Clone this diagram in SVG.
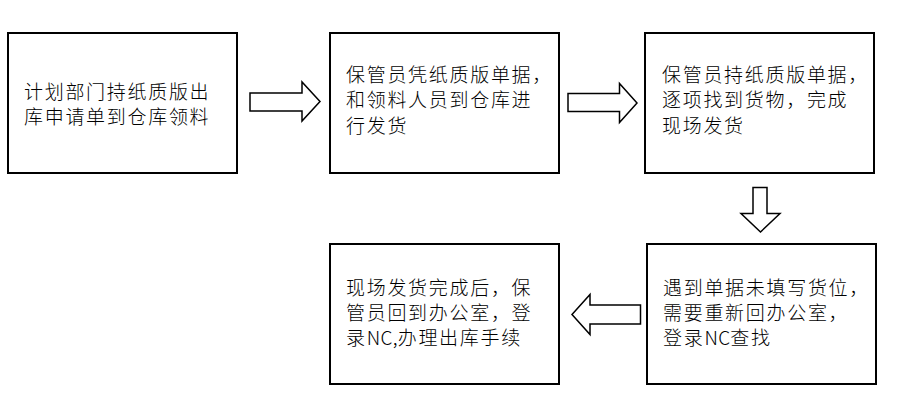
<svg xmlns="http://www.w3.org/2000/svg" width="923" height="402" viewBox="0 0 923 402">
<style>
.box{fill:#fff;stroke:#000;stroke-width:2}
.arr{fill:#fff;stroke:#000;stroke-width:1.5;stroke-linejoin:miter}
.t{font-family:"Noto Sans CJK SC","Liberation Sans",sans-serif;font-size:19px;font-weight:300;letter-spacing:1.7px;fill:#000}
.l{letter-spacing:0.3px}
</style>
<rect width="923" height="402" fill="#fff"/>
<g id="connectors">
<polygon class="arr" points="250,93 302,93 302,82 320,101.5 302,121 302,111 250,111"/>
<polygon class="arr" points="568,93.5 619.5,93.5 619.5,83.5 637,103 619.5,122.5 619.5,111.5 568,111.5"/>
<polygon class="arr" points="753,187.5 767,187.5 767,213.5 780,213.5 760.5,232 741,213.5 753,213.5"/>
<polygon class="arr" points="640.5,305 590,305 590,294.5 572,314.5 590,334.5 590,324 640.5,324"/>
</g>
<g id="n1">
<rect class="box" x="8" y="33" width="229" height="140"/>
<text class="t" x="24" y="99">计划部门持纸质版出</text>
<text class="t" x="24" y="124">库申请单到仓库领料</text>
</g>
<g id="n2">
<rect class="box" x="330" y="33" width="229" height="140"/>
<text class="t" x="346" y="82">保管员凭纸质版单据，</text>
<text class="t" x="346" y="107">和领料人员到仓库进</text>
<text class="t" x="346" y="133">行发货</text>
</g>
<g id="n3">
<rect class="box" x="645" y="33" width="229" height="140"/>
<text class="t" x="662" y="82">保管员持纸质版单据，</text>
<text class="t" x="662" y="107">逐项找到货物，完成</text>
<text class="t" x="662" y="133">现场发货</text>
</g>
<g id="n4">
<rect class="box" x="647" y="244" width="229" height="140"/>
<text class="t" x="663" y="295">遇到单据未填写货位，</text>
<text class="t" x="663" y="320">需要重新回办公室，</text>
<text class="t" x="663" y="345">登录<tspan class="l">NC</tspan>查找</text>
</g>
<g id="n5">
<rect class="box" x="330" y="244" width="229" height="140"/>
<text class="t" x="346" y="295">现场发货完成后，保</text>
<text class="t" x="346" y="320">管员回到办公室，登</text>
<text class="t" x="346" y="345">录<tspan class="l">NC,</tspan>办理出库手续</text>
</g>
</svg>
